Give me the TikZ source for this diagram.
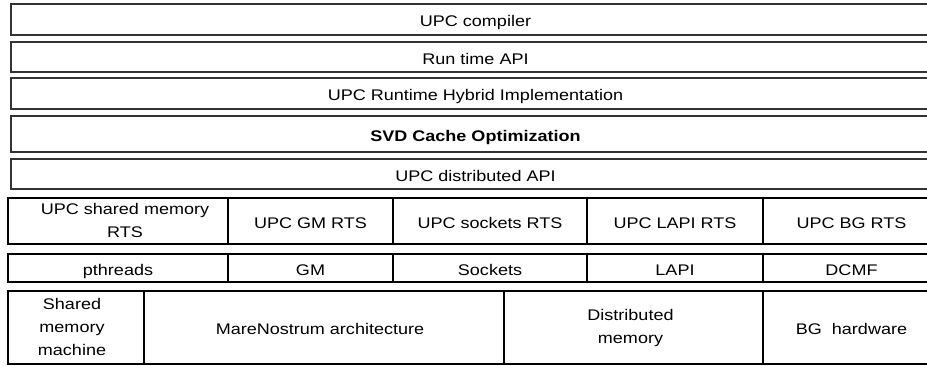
\documentclass[tikz,border=0pt]{standalone}
\usepackage{fontspec}
\setmainfont{Liberation Sans}
\usepackage{graphicx}
\newcommand\sx[1]{\scalebox{1.17}[1]{#1}}
\newcommand\hs[1]{\sx{\rule[-3.2pt]{0pt}{21pt}#1}}
\newcommand\ml[1]{\sx{\begin{tabular}{@{}c@{}}#1\end{tabular}}}
\begin{document}
\begin{tikzpicture}[x=1pt,y=-1pt,
  cellbase/.style={anchor=north west, inner sep=0pt, outer sep=0pt, font=\fontsize{15.4}{23}\selectfont},
  layer/.style={cellbase},
  layerline/.style={draw=black!80, line width=1.6pt},
  cell/.style={cellbase, draw=black, line width=1.1pt},
  opencell/.style={cellbase},
  cellline/.style={draw=black, line width=1.1pt}]
\useasboundingbox[fill=white] (0,0) rectangle (927,365);
\clip (0,0) rectangle (927,365);
% top layers (open to the right: they run past the picture edge)
\node[layer, minimum width=929pt, minimum height=31pt] (r1) at (11,4) {\hs{UPC compiler}};
\node[layer, minimum width=929pt, minimum height=30pt] (r2) at (11,42) {\hs{Run time API}};
\node[layer, minimum width=929pt, minimum height=31pt] (r3) at (11,78) {\hs{UPC Runtime Hybrid Implementation}};
\node[layer, minimum width=929pt, minimum height=36pt] (r4) at (11,116) {\hs{\bfseries SVD Cache Optimization}};
\node[layer, minimum width=929pt, minimum height=30pt] (r5) at (11,159) {\hs{UPC distributed API}};
\foreach \n in {r1,r2,r3,r4,r5}
  \draw[layerline] (\n.north east) -- (\n.north west) -- (\n.south west) -- (\n.south east);
% runtime systems
\node[cell, minimum width=220pt, minimum height=46pt] (a1) at (8,198) {\hspace*{14pt}\ml{UPC shared memory\\RTS}};
\node[cell, minimum width=165pt, minimum height=46pt] (a2) at (228,198) {\hs{UPC GM RTS}};
\node[cell, minimum width=194pt, minimum height=46pt] (a3) at (393,198) {\hs{UPC sockets RTS}};
\node[cell, minimum width=176pt, minimum height=46pt] (a4) at (587,198) {\hs{UPC LAPI RTS}};
\node[opencell, minimum width=177pt, minimum height=46pt] (a5) at (763,198) {\hs{UPC BG RTS}};
% communication layers
\node[cell, minimum width=220pt, minimum height=28pt] (b1) at (8,254) {\hs{pthreads}};
\node[cell, minimum width=165pt, minimum height=28pt] (b2) at (228,254) {\hs{GM}};
\node[cell, minimum width=194pt, minimum height=28pt] (b3) at (393,254) {\hs{Sockets}};
\node[cell, minimum width=176pt, minimum height=28pt] (b4) at (587,254) {\hs{LAPI}};
\node[opencell, minimum width=177pt, minimum height=28pt] (b5) at (763,254) {\hs{DCMF}};
% hardware
\node[cell, minimum width=136pt, minimum height=73pt] (h1) at (8,291) {\ml{Shared\\memory\\machine}\hspace*{8pt}};
\node[cell, minimum width=360pt, minimum height=73pt] (h2) at (144,291) {\hs{MareNostrum architecture}\hspace*{8pt}};
\node[cell, minimum width=259pt, minimum height=73pt] (h3) at (504,291) {\ml{Distributed\\memory}\hspace*{6pt}};
\node[opencell, minimum width=177pt, minimum height=73pt] (h4) at (763,291) {\hs{BG\ \ hardware}};
\foreach \n in {a5,b5,h4}
  \draw[cellline] (\n.north east) -- (\n.north west) -- (\n.south west) -- (\n.south east);
\end{tikzpicture}
\end{document}
